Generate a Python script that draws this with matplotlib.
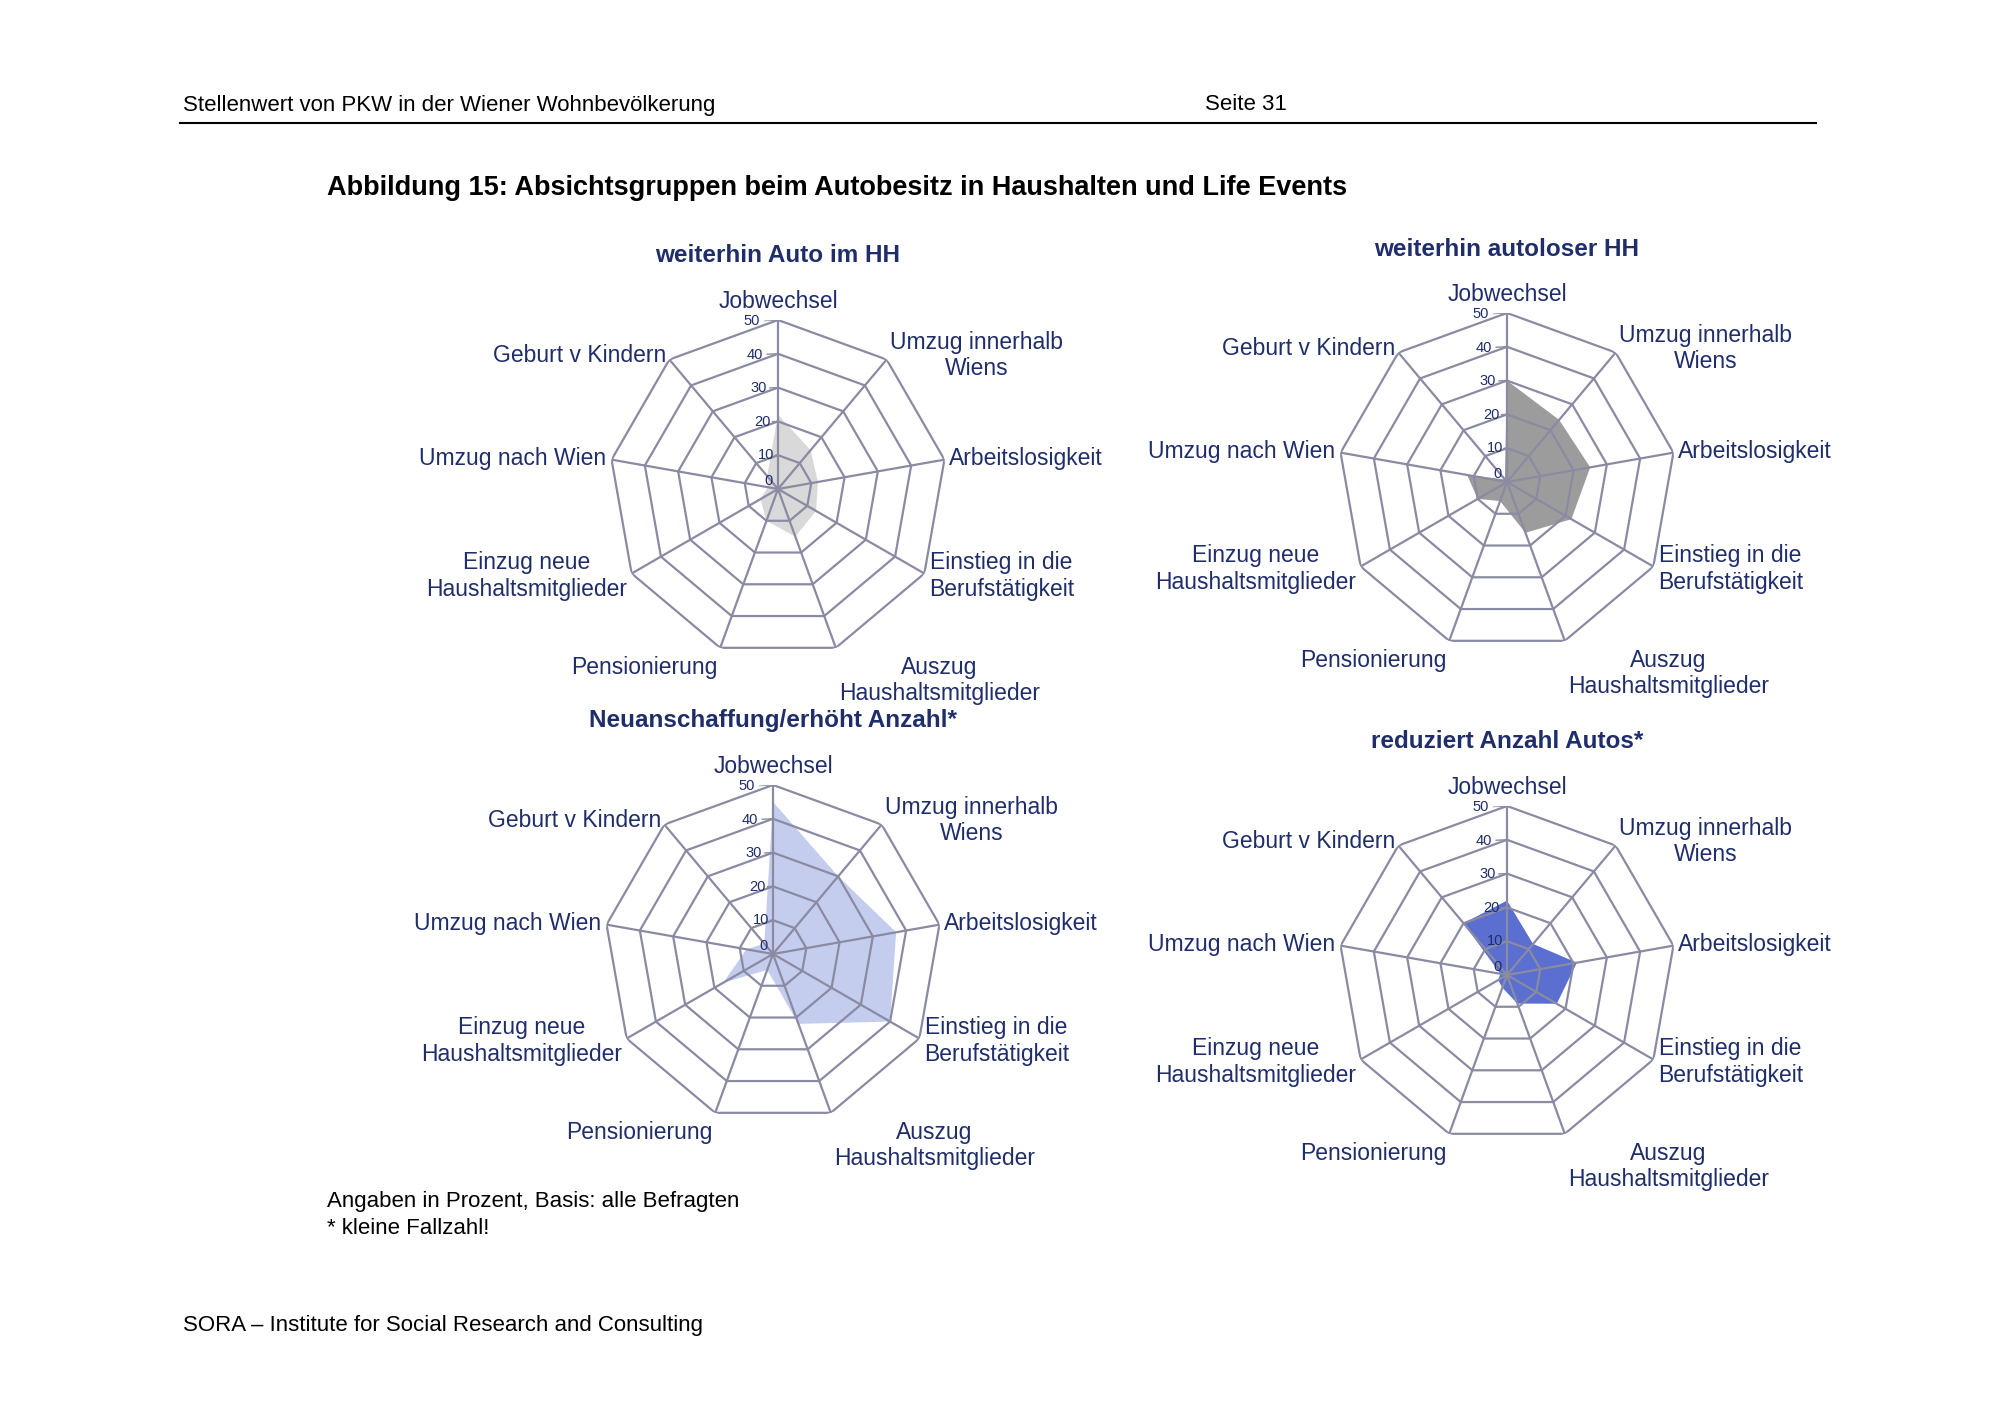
import matplotlib
matplotlib.use('Agg')
import matplotlib.pyplot as plt
import numpy as np

plt.rcParams['font.family'] = ['Liberation Sans', 'DejaVu Sans']

# Kategorien (im Uhrzeigersinn ab oben)
kategorien = ['Jobwechsel', 'Umzug innerhalb\nWiens', 'Arbeitslosigkeit',
              'Einstieg in die\nBerufstätigkeit', 'Auszug\nHaushaltsmitglieder',
              'Pensionierung', 'Einzug neue\nHaushaltsmitglieder',
              'Umzug nach Wien', 'Geburt v Kindern']
ringe = [0, 10, 20, 30, 40, 50]

titel = ['weiterhin Auto im HH', 'weiterhin autoloser HH',
         'Neuanschaffung/erhöht Anzahl*', 'reduziert Anzahl Autos*']
auto_hh = [22, 15, 12, 13, 15, 10, 6, 3, 5]
autoloser_hh = [30, 24, 25, 22, 16, 6, 10, 12, 1]
neuanschaffung = [45, 30, 37, 40, 22, 5, 17, 8, 4]
reduziert = [22, 12, 21, 17, 9, 4, 3, 2, 20]
werte = [auto_hh, autoloser_hh, neuanschaffung, reduziert]
farben = ['#d9d9d9', '#9c9c9c', '#c5cdee', '#5a6fd0']

navy = '#1f2d6b'
gitter = '#8a8aa2'

W, H = 2000, 1414
fig = plt.figure(figsize=(20, 14.14), dpi=100)

# Kopf- und Fußzeile
fig.text(183 / W, 1 - 105 / H, 'Stellenwert von PKW in der Wiener Wohnbevölkerung',
         fontsize=16, va='center')
fig.text(1205 / W, 1 - 105 / H, 'Seite 31', fontsize=16, va='center')
fig.add_artist(plt.Line2D([180 / W, 1816 / W], [1 - 123 / H, 1 - 123 / H],
                          color='black', lw=1.5))
fig.text(327 / W, 1 - 188 / H,
         'Abbildung 15: Absichtsgruppen beim Autobesitz in Haushalten und Life Events',
         fontsize=19.5, fontweight='bold', va='center')
fig.text(327 / W, 1 - 1201 / H, 'Angaben in Prozent, Basis: alle Befragten',
         fontsize=16, va='center')
fig.text(327 / W, 1 - 1229 / H, '* kleine Fallzahl!', fontsize=16, va='center')
fig.text(183 / W, 1 - 1326 / H, 'SORA – Institute for Social Research and Consulting',
         fontsize=16, va='center')

zentren = [(778, 489), (1507, 482), (773, 954), (1507, 975)]
titel_y = [256, 249, 721, 742]
R = 169

n = len(kategorien)
winkel = np.arange(n) * 2 * np.pi / n
winkel_zu = np.append(winkel, winkel[0])

for i in range(4):
    cx, cy = zentren[i]
    ax = fig.add_axes([(cx - R) / W, 1 - (cy + R) / H, 2 * R / W, 2 * R / H],
                      projection='polar')
    ax.set_theta_zero_location('N')
    ax.set_theta_direction(-1)
    ax.set_ylim(0, 50)
    ax.axis('off')
    v = werte[i]
    ax.fill(winkel_zu, v + v[:1], color=farben[i], lw=0, zorder=1)
    for r in ringe[1:]:
        ax.plot(winkel_zu, [r] * (n + 1), color=gitter, lw=1.6, zorder=2)
    for w in winkel:
        ax.plot([w, w], [0, 50], color=gitter, lw=1.6, zorder=2)
    for r in ringe:
        if r:
            ax.plot([0, -0.08], [r, r], color=gitter, lw=1, zorder=2)
        ax.text(-0.11 if r else -0.6, r + (0 if r else 3), str(r), fontsize=10.5,
                color=navy, ha='right', va='center')
    for w, k in zip(winkel, kategorien):
        s, c = np.sin(w), np.cos(w)
        ha = 'center' if abs(s) < 0.2 else ('left' if s > 0 else 'right')
        if abs(s) < 0.2:
            va = 'bottom' if c > 0 else 'top'
        elif c < -0.8:
            va = 'top'
        else:
            va = 'center'
        rr = 52 if abs(s) < 0.2 else 51.5
        if c < -0.8:
            rr = 52.5
        ax.text(w, rr, k, fontsize=16.5, color=navy, ha=ha, va=va,
                multialignment='center')
    fig.text(cx / W, 1 - titel_y[i] / H, titel[i], fontsize=17.5,
             fontweight='bold', color=navy, ha='center', va='center')

fig.savefig('out.png', dpi=100)
